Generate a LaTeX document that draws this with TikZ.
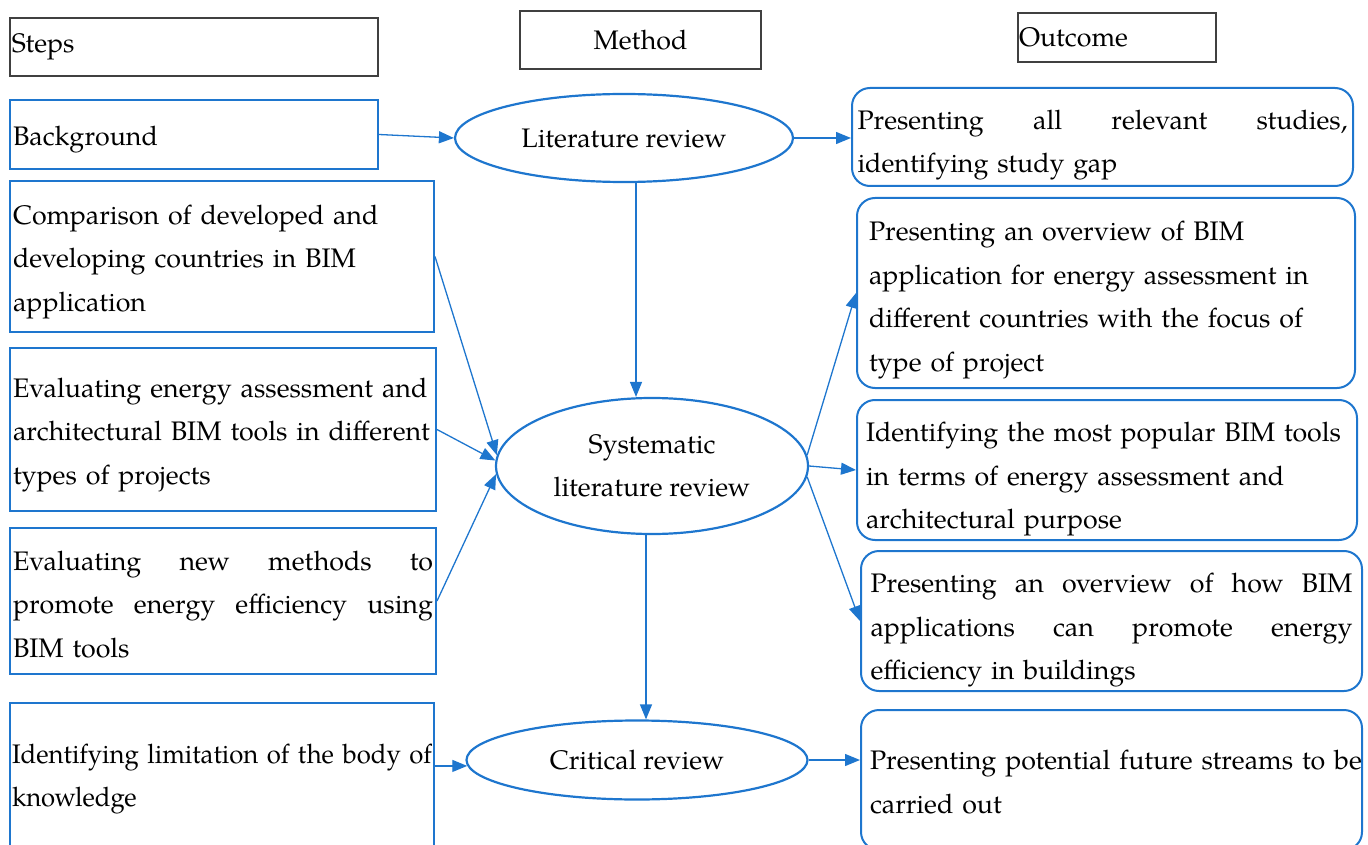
\documentclass[tikz,border=0pt]{standalone}
\usepackage{fontspec}
\setmainfont{TeX Gyre Pagella}
\usetikzlibrary{shapes.geometric,arrows.meta}
\definecolor{bimblue}{RGB}{30,118,206}
\newcommand{\bigtxt}{\fontsize{26.8}{43.5}\selectfont}
\newcommand{\jl}[2]{\hbox to #1{#2}}
\begin{document}
\begin{tikzpicture}[x=1pt,y=-1pt,
  hdr/.style={draw=black!75, line width=1.3pt, inner ysep=0pt, font=\bigtxt},
  stepbox/.style={draw=bimblue, line width=2pt, inner ysep=0pt, align=left, font=\bigtxt},
  oval/.style={ellipse, draw=bimblue, line width=2.2pt, inner sep=0pt, align=center, font=\bigtxt},
  outbox/.style={draw=bimblue, line width=2pt, rounded corners=18pt, inner ysep=0pt, align=left, font=\bigtxt},
  tdown/.style={execute at begin node={\leavevmode\rule{0pt}{#1}}},
  arr/.style={draw=bimblue, line width=1.3pt, -{Triangle[length=15pt,width=12pt]}}]
\useasboundingbox (0,0) rectangle (1368,845);
\clip (0,0) rectangle (1368,845);
% headers
\node[hdr, text width=364pt, inner xsep=2pt, minimum height=58pt, align=left] (steps) at (194,47) {Steps};
\node[hdr, text width=237pt, inner xsep=2pt, minimum height=58pt, align=center] (method) at (640.5,40) {Method};
\node[hdr, text width=196pt, inner xsep=1pt, minimum height=49pt, align=left] (outcome) at (1117,37.5) {Outcome};
% steps
\node[stepbox, tdown=30pt, text width=362pt, inner xsep=3pt, minimum height=69pt] (bg) at (194,134.5) {\mbox{Background}};
\node[stepbox, tdown=30pt, text width=418pt, inner xsep=3pt, minimum height=151pt] (comp) at (222,256.5)
  {\mbox{Comparison of developed and}\\\mbox{developing countries in BIM}\\\mbox{application}};
\node[stepbox, tdown=30pt, text width=420pt, inner xsep=3pt, minimum height=163pt] (evale) at (223,429.5)
  {\mbox{Evaluating energy assessment and}\\\mbox{architectural BIM tools in different}\\\mbox{types of projects}};
\node[stepbox, tdown=26pt, text width=420pt, inner xsep=3pt, minimum height=146pt] (evaln) at (223,601)
  {\jl{420pt}{Evaluating\hfill new\hfill methods\hfill to}\\\leavevmode\jl{420pt}{promote\hfill energy\hfill efficiency\hfill using}\\\mbox{BIM tools}};
\node[stepbox, text width=420pt, inner xsep=2pt, minimum height=147pt] (ident) at (222,776.5)
  {\resizebox{420pt}{\height}{\begin{tabular}{@{}l@{}}Identifying limitation of the body of\\knowledge\end{tabular}}};
% methods
\node[oval, minimum width=338pt, minimum height=88pt] (lit) at (624,138) {Literature review};
\node[oval, minimum width=312pt, minimum height=136pt] (sys) at (652,466) {Systematic\\literature review};
\node[oval, minimum width=341pt, minimum height=79pt] (crit) at (637,760) {Critical review};
% outcomes
\node[outbox, tdown=36pt, text width=490pt, inner xsep=5.5pt, minimum height=98pt] (o1) at (1102.5,137)
  {\jl{490pt}{Presenting\hfill all\hfill relevant\hfill studies,}\\\mbox{identifying study gap}};
\node[outbox, tdown=34pt, text width=474pt, inner xsep=12pt, minimum height=190pt] (o2) at (1106,293)
  {\mbox{Presenting an overview of BIM}\\\mbox{application for energy assessment in}\\\mbox{different countries with the focus of}\\\mbox{type of project}};
\node[outbox, tdown=38pt, text width=482pt, inner xsep=9pt, minimum height=140pt] (o3) at (1107,470)
  {\mbox{Identifying the most popular BIM tools}\\\mbox{in terms of energy assessment and}\\\mbox{architectural purpose}};
\node[outbox, tdown=38pt, text width=482pt, inner xsep=9.5pt, minimum height=140pt] (o4) at (1111.5,621)
  {\jl{482pt}{Presenting\hfill an\hfill overview\hfill of\hfill how\hfill BIM}\\\leavevmode\jl{482pt}{applications\hfill can\hfill promote\hfill energy}\\\mbox{efficiency in buildings}};
\node[outbox, tdown=24pt, text width=483pt, inner xsep=9pt, minimum height=140pt] (o5) at (1111.5,780)
  {\mbox{Presenting potential future streams to be}\\\mbox{carried out}};
% connectors
\draw[arr] (bg.east) -- (lit.west);
\draw[arr] (lit.east) -- (lit.east -| o1.west);
\draw[arr] ([xshift=12pt]lit.south) -- ([xshift=12pt]lit.south |- sys.north);
\draw[arr] (comp.east) -- (sys.176);
\draw[arr] (evale.east) -- (sys.178);
\draw[arr] (evaln.east) -- (sys.183);
\draw[arr] (sys.4) -- (o2.west);
\draw[arr] (sys.0) -- (o3.west);
\draw[arr] (sys.-4) -- (o4.west);
\draw[arr] ([xshift=-6pt]sys.south) -- ([xshift=-6pt]sys.south |- crit.north);
\draw[arr] (ident.east |- crit.182) -- (crit.182);
\draw[arr] (crit.east) -- (crit.east -| o5.west);
\end{tikzpicture}
\end{document}
